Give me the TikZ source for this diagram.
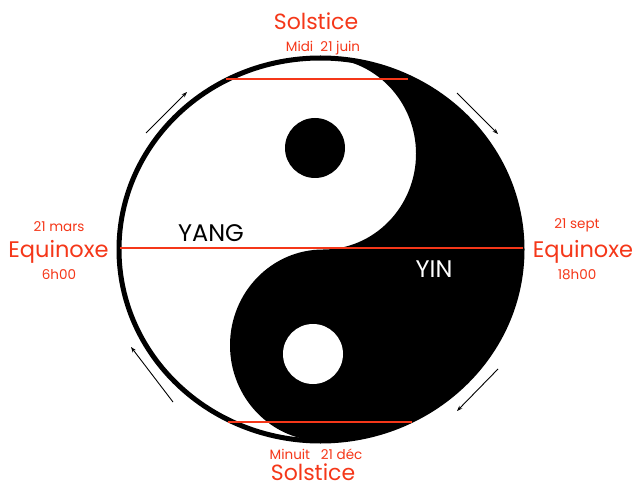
\documentclass[tikz,border=0pt]{standalone}
\usepackage{fontspec}
\setmainfont{Poppins}
\usetikzlibrary{arrows.meta}
\definecolor{sred}{RGB}{245,55,25}
\begin{document}
\begin{tikzpicture}[x=1pt,y=-1pt,
  lbl/.style={text=sred,inner sep=0pt,anchor=base},
  big/.style={lbl,font=\fontsize{22}{24}\selectfont},
  eqx/.style={lbl,font=\fontsize{22.5}{24}\selectfont},
  small/.style={lbl,font=\fontsize{13.5}{15}\selectfont},
  redline/.style={draw=sred,line width=1.3pt},
  cyc/.style={line width=0.9pt,-{Stealth[length=5.5pt,width=4pt]}},
  yy/.style={inner sep=0pt,anchor=base,font=\fontsize{24}{26}\selectfont}]
\useasboundingbox (0,0) rectangle (636,486);
\fill[white] (0,0) rectangle (636,486);
% yin-yang body
\fill[white] (320.5,249.5) ellipse [x radius=201.5, y radius=191.5];
\fill[black] (323,58) arc[start angle=-90,end angle=90,x radius=93,y radius=95.75]
  arc[start angle=-90,end angle=-270,x radius=93,y radius=95.75]
  -- (320.5,441)
  arc[start angle=90,end angle=-90,x radius=201.5,y radius=191.5] -- cycle;
\fill[black] (315,148) circle[radius=30];
\fill[white] (313,354) circle[radius=30];
\draw[line width=5pt] (320.5,249.5) ellipse [x radius=201.5, y radius=191.5];
% red lines
\coordinate (tl) at (226,79); \coordinate (tr) at (408,79);
\coordinate (ml) at (120,248); \coordinate (mr) at (523,248);
\coordinate (bl) at (228,422); \coordinate (br) at (412,422);
\draw[redline] (tl) -- (tr);
\draw[redline] (ml) -- (mr);
\draw[redline] (bl) -- (br);
% arrows
\coordinate (a1s) at (146,133); \coordinate (a1e) at (187,92);
\coordinate (a2s) at (457,93);  \coordinate (a2e) at (498,134);
\coordinate (a3s) at (498,369); \coordinate (a3e) at (457,411);
\coordinate (a4s) at (173,402); \coordinate (a4e) at (131,347);
\draw[cyc] (a1s) -- (a1e);
\draw[cyc] (a2s) -- (a2e);
\draw[cyc] (a3s) -- (a3e);
\draw[cyc] (a4s) -- (a4e);
% labels
\node[big] (solT) at (316,30) {Solstice};
\node[small] (midi) at (323,52) {Midi\ \ 21 juin};
\node[small] (mars) at (59,231) {21 mars};
\node[eqx] (eqL) at (58.5,257) {Equinoxe};
\node[small] (h6) at (59,279) {6h00};
\node[small] (sept) at (577,229) {21 sept};
\node[eqx] (eqR) at (583,257) {Equinoxe};
\node[small] (h18) at (577,279) {18h00};
\node[small] (minuit) at (316,459) {Minuit\ \ \ 21 déc};
\node[big] (solB) at (313,480) {Solstice};
\node[yy] (yang) at (211,241) {YANG};
\node[yy,text=white] (yin) at (434,277) {YIN};
\end{tikzpicture}
\end{document}
